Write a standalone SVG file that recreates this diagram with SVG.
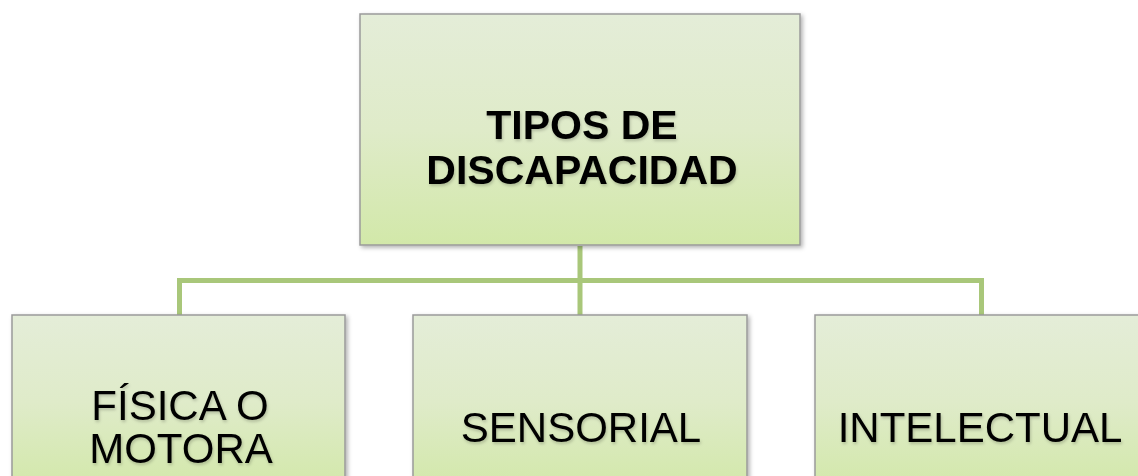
<svg xmlns="http://www.w3.org/2000/svg" width="1138" height="476" viewBox="0 0 1138 476">
<style>
.box{fill:url(#g);stroke:#9a9a9a;stroke-width:1.5}
.t{font-family:"Liberation Sans",Arial,sans-serif;fill:#000;text-anchor:middle}
.b{font-weight:bold;font-size:41px}
.r{font-size:42px}
.con{fill:none;stroke:#a9c77a;stroke-width:5}
</style>
<defs>
<linearGradient id="g" x1="0" y1="0" x2="0" y2="1">
<stop offset="0" stop-color="#e4edd8"/>
<stop offset="0.5" stop-color="#dfebc9"/>
<stop offset="1" stop-color="#d2e8a9"/>
</linearGradient>
<filter id="sh" x="-5%" y="-5%" width="115%" height="115%">
<feDropShadow dx="2" dy="2" stdDeviation="2" flood-color="#000" flood-opacity="0.3"/>
</filter>
<filter id="ts" x="-5%" y="-10%" width="115%" height="130%">
<feDropShadow dx="1" dy="2" stdDeviation="1.5" flood-color="#000" flood-opacity="0.2"/>
</filter>
</defs>
<g id="connectors">
<path class="con" d="M580,246 V280.5 M179.5,315 V280.5 H981.5 V315 M580,280.5 V315"/>
</g>
<g id="root">
<rect class="box" x="360" y="14" width="440" height="231" filter="url(#sh)"/>
<text class="t b" filter="url(#ts)"><tspan x="582" y="139">TIPOS DE</tspan><tspan x="582" y="184">DISCAPACIDAD</tspan></text>
</g>
<g id="fisica">
<rect class="box" x="12" y="315" width="333" height="175" filter="url(#sh)"/>
<text class="t r" filter="url(#ts)"><tspan x="180" y="420">FÍSICA O</tspan><tspan x="181" y="463">MOTORA</tspan></text>
</g>
<g id="sensorial">
<rect class="box" x="413" y="315" width="334" height="175" filter="url(#sh)"/>
<text class="t r" x="581" y="442" filter="url(#ts)">SENSORIAL</text>
</g>
<g id="intelectual">
<rect class="box" x="815" y="315" width="334" height="175" filter="url(#sh)"/>
<text class="t r" x="980" y="442" filter="url(#ts)">INTELECTUAL</text>
</g>
</svg>
